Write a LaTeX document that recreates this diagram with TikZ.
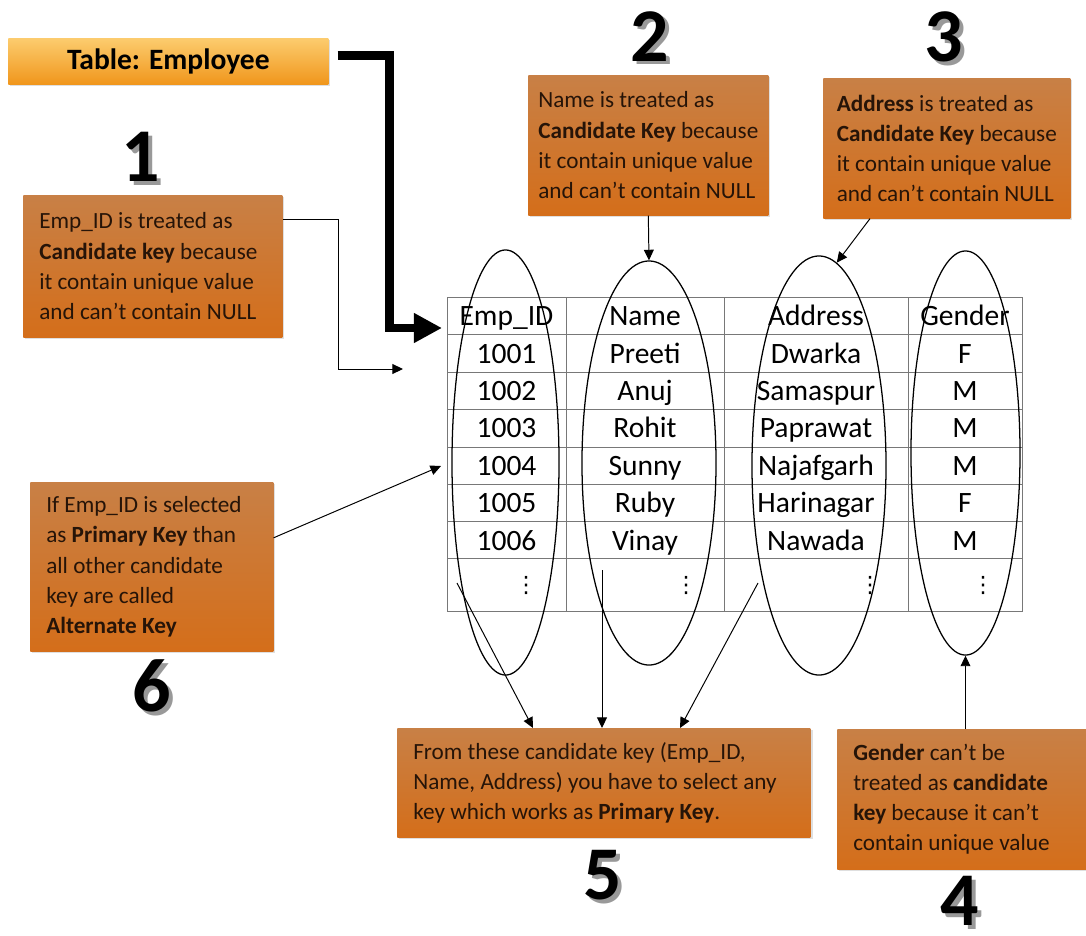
\documentclass[tikz,border=0pt]{standalone}
\usepackage{fontspec}
\setmainfont{Carlito}
\newfontfamily\symfont{DejaVu Sans}
\usetikzlibrary{arrows.meta,shapes.geometric,shadows}

\definecolor{notetop}{RGB}{200,128,70}
\definecolor{notebot}{RGB}{212,110,26}
\definecolor{notetext}{RGB}{38,20,8}
\definecolor{ttltop}{RGB}{252,204,110}
\definecolor{ttlmid}{RGB}{246,168,45}
\definecolor{ttlbot}{RGB}{240,150,28}
\definecolor{gridgray}{RGB}{120,120,120}

\newcommand{\bignum}[1]{\makebox[0pt][l]{\hspace{2.5pt}\raisebox{-2.5pt}{\textcolor{black!40}{#1}}}#1}

\tikzset{
  note/.style={top color=notetop, bottom color=notebot, text=notetext,
    align=flush left, anchor=north west, inner ysep=0pt, inner xsep=0.4cm,
    font=\fontsize{16.5}{21.5}\selectfont,
    drop shadow={opacity=0.25, shadow xshift=1.5pt, shadow yshift=-1.5pt}},
  num/.style={font=\fontsize{54}{54}\selectfont\bfseries, inner sep=0pt},
  cell/.style={anchor=base, font=\fontsize{21}{21}\selectfont},
  dots/.style={font=\symfont\fontsize{16}{16}\selectfont, inner sep=0pt},
  oval/.style={draw, ellipse, line width=0.9pt, inner sep=0pt},
  arr/.style={-{Triangle[length=7.5pt,width=7pt]}, line width=0.7pt},
  grid/.style={gridgray, line width=0.6pt},
}

\begin{document}
\begin{tikzpicture}[x=0.025cm, y=-0.025cm]
  \useasboundingbox (0,0) rectangle (1086,935);

  \node[note, top color=ttltop, middle color=ttlmid, bottom color=ttlbot, text=black,
    align=center, inner xsep=0pt, font=\fontsize{21}{21}\selectfont\bfseries,
    minimum width=8cm, minimum height=1.15cm] (ttl) at (8,38) {Table: Employee};

  \node[note, text width=5.675cm, minimum height=3.55cm] (b1) at (23,195)
    {Emp\_ID is treated as\\ \textbf{Candidate key} because\\ it contain unique value\\ and can’t contain NULL};
  \node[note, align=left, inner xsep=0pt, minimum width=6cm, minimum height=3.5cm] (b2) at (528,75)
    {Name is treated as\\ \textbf{Candidate Key} because\\ it contain unique value\\ and can’t contain NULL};
  \node[note, align=left, inner xsep=0pt, minimum width=6.175cm, minimum height=3.5cm] (b3) at (823,78)
    {\textbf{Address} is treated as\\ \textbf{Candidate Key} because\\ it contain unique value\\ and can’t contain NULL};
  \node[note, text width=5.425cm, minimum height=3.5cm] (b4) at (837,729)
    {\textbf{Gender} can’t be\\ treated as \textbf{candidate}\\ \textbf{key} because it can’t\\ contain unique value};
  \node[note, text width=9.525cm, minimum height=2.725cm] (b5) at (397,728)
    {From these candidate key (Emp\_ID,\\ Name, Address) you have to select any\\ key which works as \textbf{Primary Key}.};
  \node[note, text width=5.275cm, minimum height=4.225cm] (b6) at (30,482)
    {If Emp\_ID is selected\\ as \textbf{Primary Key} than\\ all other candidate\\ key are called\\ \textbf{Alternate Key}};

  \node[num] (n1) at (141,159) {\bignum{1}};
  \node[num] (n2) at (650,38) {\bignum{2}};
  \node[num] (n3) at (944,39) {\bignum{3}};
  \node[num] (n4) at (960,903) {\bignum{4}};
  \node[num] (n5) at (603,877) {\bignum{5}};
  \node[num] (n6) at (152,688) {\bignum{6}};

  \draw[grid] (447,297) rectangle (1022,611);
  \foreach \x in {566,724,908}
    \draw[grid] (\x,297) -- (\x,611);
  \foreach \y in {334,372,409,447,484,521,558}
    \draw[grid] (447,\y) -- (1022,\y);

  \node[cell] (h1) at (506.5,325.5) {Emp\_ID};
  \node[cell] (h2) at (645,325.5) {Name};
  \node[cell] (h3) at (816,325.5) {Address};
  \node[cell] (h4) at (965,325.5) {Gender};
  \foreach \id/\nm/\ad/\gd [count=\row] in {1001/Preeti/Dwarka/F, 1002/Anuj/Samaspur/M,
      1003/Rohit/Paprawat/M, 1004/Sunny/Najafgarh/M, 1005/Ruby/Harinagar/F, 1006/Vinay/Nawada/M} {
    \pgfmathsetmacro\yy{363+(\row-1)*37.4}
    \node[cell] (id\row) at (506.5,\yy) {\id};
    \node[cell] (nm\row) at (645,\yy) {\nm};
    \node[cell] (ad\row) at (816,\yy) {\ad};
    \node[cell] (gd\row) at (965,\yy) {\gd};
  }
  \node[dots] (d1) at (526,585) {⋮};
  \node[dots] (d2) at (686,585) {⋮};
  \node[dots] (d3) at (870,585) {⋮};
  \node[dots] (d4) at (983,585) {⋮};

  \node[oval, minimum width=2.675cm, minimum height=10.625cm] (e1) at (505.5,462.5) {};
  \node[oval, minimum width=3.35cm, minimum height=10.1cm] (e2) at (649,463) {};
  \node[oval, minimum width=3.35cm, minimum height=10.475cm] (e3) at (819,465.5) {};
  \node[oval, minimum width=2.725cm, minimum height=10.1cm] (e4) at (965.5,453) {};

  \coordinate (tl) at (442,328);
  \coordinate (k1) at (403,369);
  \coordinate (k6) at (441,466);
  \coordinate (s1) at (457,583);
  \coordinate (s2) at (602,570);
  \coordinate (s3) at (758,583);
  \coordinate (t1) at (533,728);
  \coordinate (t2) at (602,728);
  \coordinate (t3) at (680,728);

  \draw[line width=6.1pt, -{Triangle[length=20pt,width=20pt]}]
    ([xshift=0.225cm,yshift=0.15cm]ttl.east) -| (389.5,328) -- (tl);
  \begin{scope}[arr]
    \draw ([yshift=-0.6cm]b1.north east) -| (338,369) -- (k1);
    \draw (b2.south) -- (e2.north);
    \draw ([xshift=1.175cm]b3.south west) -- (e3.85);
    \draw (b4.north -| e4.south) -- (e4.south);
    \draw ([yshift=0.725cm]b6.east) -- (k6);
    \draw (s1) -- (t1);
    \draw (s2) -- (t2);
    \draw (s3) -- (t3);
  \end{scope}
\end{tikzpicture}
\end{document}
